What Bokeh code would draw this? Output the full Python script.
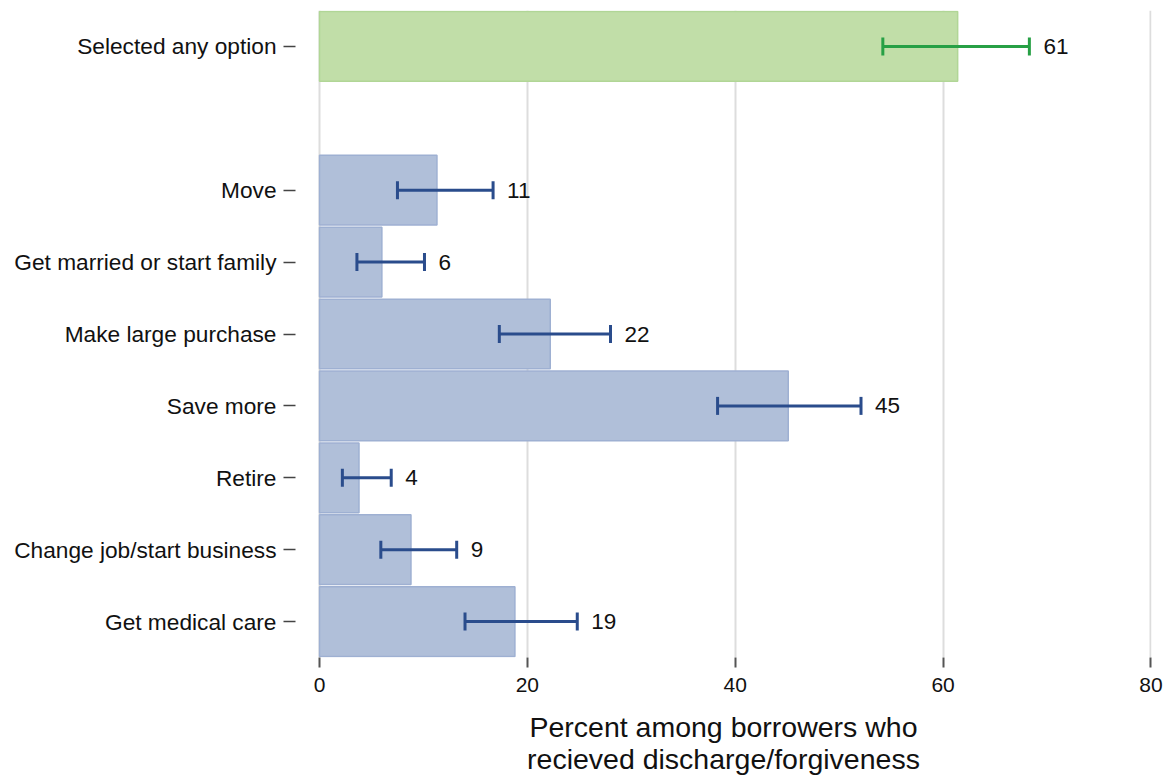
from bokeh.plotting import figure
from bokeh.models import ColumnDataSource, Whisker, TeeHead, FixedTicker, Range1d
from bokeh.core.properties import value
from bokeh.embed import file_html
from bokeh.resources import INLINE

# Survey results: share of borrowers who took each action after discharge/forgiveness
categories = [
    "Selected any option",
    "Move",
    "Get married or start family",
    "Make large purchase",
    "Save more",
    "Retire",
    "Change job/start business",
    "Get medical care",
]
pct = [61.4, 11.3, 6.0, 22.2, 45.1, 3.8, 8.8, 18.8]
ci_low = [54.2, 7.5, 3.6, 17.3, 38.3, 2.2, 5.9, 14.0]
ci_high = [68.3, 16.7, 10.1, 28.0, 52.1, 6.9, 13.2, 24.8]
x_ticks = [0, 20, 40, 60, 80]

FONT = "Liberation Sans"
BLUE_FILL, BLUE_LINE, BLUE_ERR = "#b0bfd9", "#9eb0d2", "#2a4c8c"
GREEN_FILL, GREEN_LINE, GREEN_ERR = "#c1dea8", "#b1d696", "#27a045"

# First row (summary) sits above the rest with an empty slot between
n = len(categories)
ypos = [n + 1] + [n - 1 - i for i in range(n - 1)]

fill = [GREEN_FILL] + [BLUE_FILL] * (n - 1)
line = [GREEN_LINE] + [BLUE_LINE] * (n - 1)
err = [GREEN_ERR] + [BLUE_ERR] * (n - 1)
labels = [str(int(round(v))) for v in pct]

src = ColumnDataSource(dict(
    y=ypos, pct=pct, lo=ci_low, hi=ci_high,
    fill=fill, line=line, err=err, label=labels,
))

p = figure(
    width=1170, height=779,
    x_range=Range1d(-2.31, 80.05),
    y_range=Range1d(0.5, n + 1.5),
    output_backend="svg", toolbar_location=None,
    min_border_left=295, min_border_right=19,
    min_border_top=10, min_border_bottom=122,
)
p.outline_line_color = None
p.background_fill_color = "white"

p.hbar(y="y", left=0, right="pct", height=0.97, source=src,
       fill_color="fill", line_color="line", line_width=1.5)

whisk = Whisker(
    source=src, base="y", lower="lo", upper="hi", dimension="width",
    line_color="err", line_width=3, level="overlay",
    lower_head=TeeHead(size=18, line_color="err", line_width=3),
    upper_head=TeeHead(size=18, line_color="err", line_width=3),
)
p.add_layout(whisk)

p.text(x="hi", y="y", text="label", source=src, x_offset=14,
       text_align="left", text_baseline="middle",
       text_font=value(FONT), text_font_size="22.5px", text_color="#111111")

# Grid: only vertical lines at the x ticks
p.ygrid.visible = False
p.xgrid.ticker = FixedTicker(ticks=x_ticks)
p.xgrid.grid_line_color = "#dddddd"
p.xgrid.grid_line_width = 2

# X axis
p.xaxis.ticker = FixedTicker(ticks=x_ticks)
p.xaxis.axis_line_color = None
p.xaxis.major_tick_in = 0
p.xaxis.major_tick_out = 10
p.xaxis.major_tick_line_color = "#555555"
p.xaxis.major_tick_line_width = 2
p.xaxis.minor_tick_line_color = None
p.xaxis.major_label_text_font = FONT
p.xaxis.major_label_text_font_size = "21px"
p.xaxis.major_label_text_color = "#111111"
p.xaxis.major_label_standoff = 10
p.xaxis.axis_label = "Percent among borrowers who\nrecieved discharge/forgiveness"
p.xaxis.axis_label_text_font = FONT
p.xaxis.axis_label_text_font_size = "28.5px"
p.xaxis.axis_label_text_line_height = 1.02
p.xaxis.axis_label_text_font_style = "normal"
p.xaxis.axis_label_text_color = "#111111"
p.xaxis.axis_label_standoff = 16

# Y axis: category names as tick labels
p.yaxis.ticker = FixedTicker(ticks=ypos)
p.yaxis.major_label_overrides = {y: c for y, c in zip(ypos, categories)}
p.yaxis.axis_line_color = None
p.yaxis.major_tick_in = 0
p.yaxis.major_tick_out = 12
p.yaxis.major_tick_line_color = "#444444"
p.yaxis.major_tick_line_width = 1.5
p.yaxis.minor_tick_line_color = None
p.yaxis.major_label_text_font = FONT
p.yaxis.major_label_text_font_size = "22.7px"
p.yaxis.major_label_text_color = "#111111"
p.yaxis.major_label_standoff = 7

open("out.html", "w").write(file_html(p, INLINE))
